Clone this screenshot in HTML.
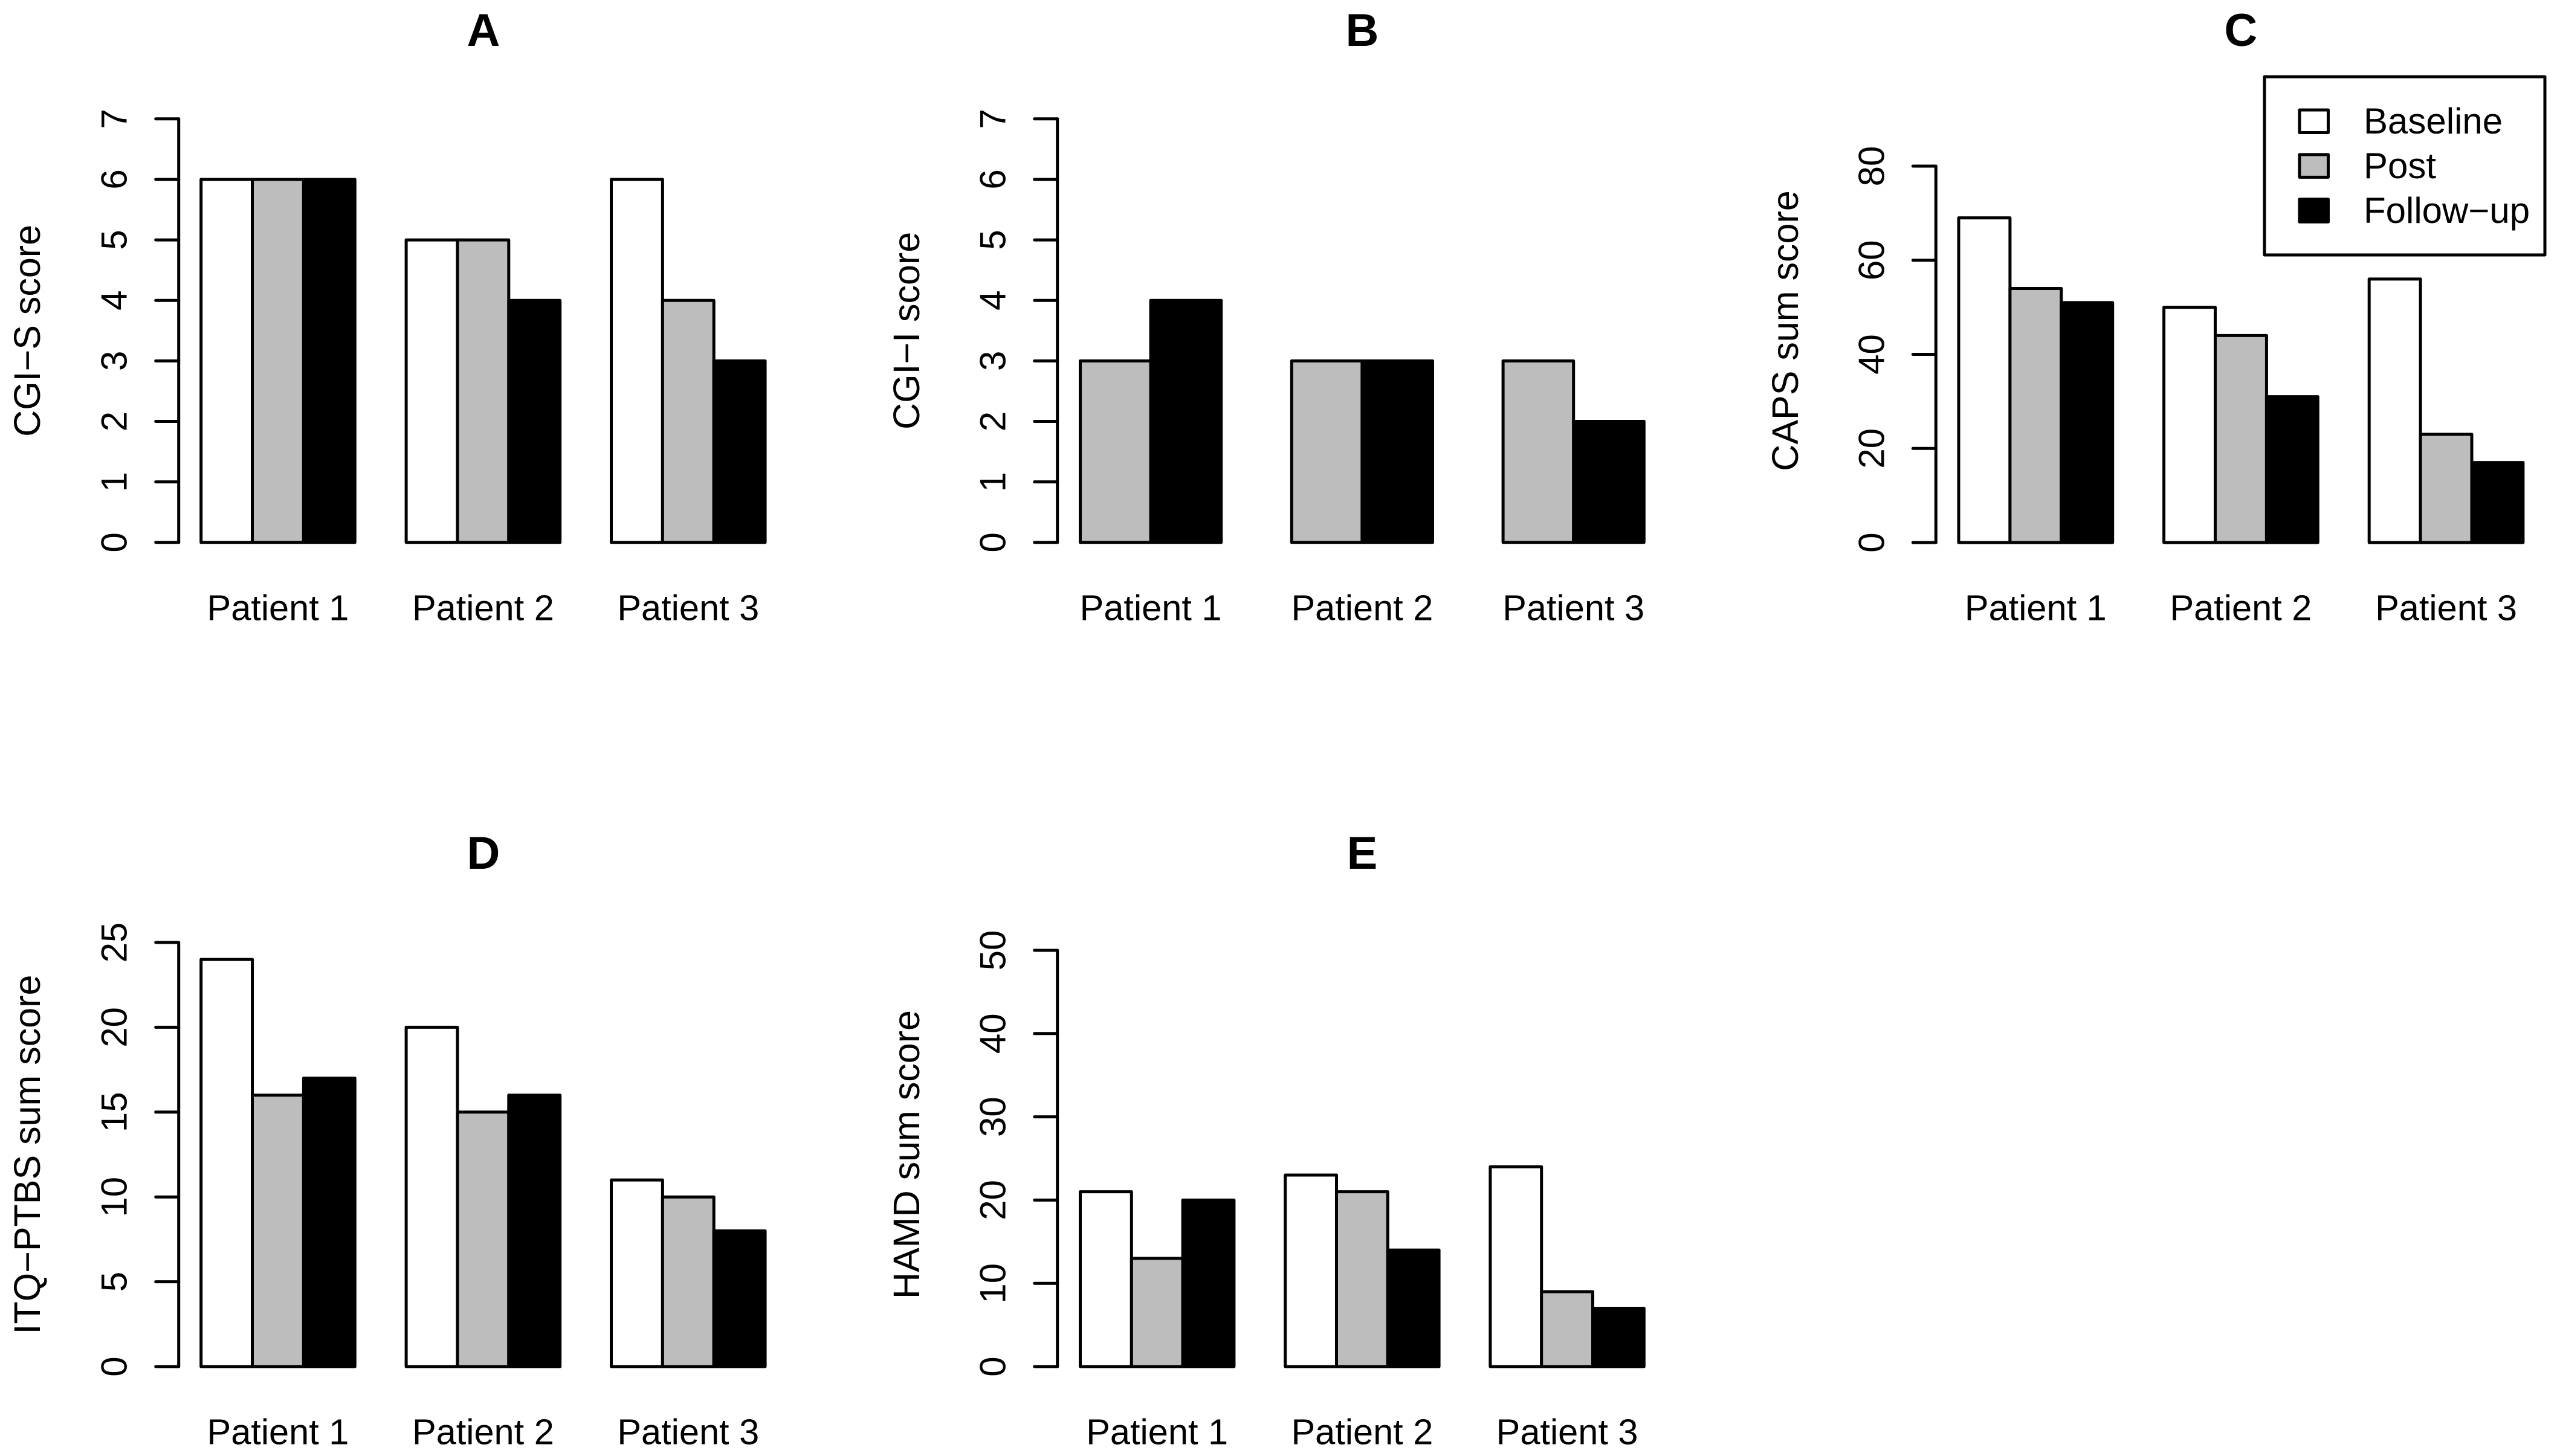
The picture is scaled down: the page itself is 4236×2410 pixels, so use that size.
<!DOCTYPE html>
<html lang="en">
<head>
<meta charset="utf-8">
<title>Patient score bar charts</title>
<style>
html,body{margin:0;padding:0;background:#fff;}
#figure{display:block;width:4236px;height:2410px;background:#fff;}
text{font-family:"Liberation Sans",Arial,sans-serif;fill:#000;}
</style>
</head>
<body>
<svg id="figure" xmlns="http://www.w3.org/2000/svg" width="4236" height="2410" viewBox="0 0 4236 2410"></svg>
<script>
const patients = ["Patient 1", "Patient 2", "Patient 3"];
const seriesNames = ["Baseline", "Post", "Follow\u2212up"];

const cgiSBaseline = [6, 5, 6];
const cgiSPost = [6, 5, 4];
const cgiSFollowUp = [6, 4, 3];
const cgiSTicks = [0, 1, 2, 3, 4, 5, 6, 7];

const cgiIPost = [3, 3, 3];
const cgiIFollowUp = [4, 3, 2];
const cgiITicks = [0, 1, 2, 3, 4, 5, 6, 7];

const capsBaseline = [69, 50, 56];
const capsPost = [54, 44, 23];
const capsFollowUp = [51, 31, 17];
const capsTicks = [0, 20, 40, 60, 80];

const itqBaseline = [24, 20, 11];
const itqPost = [16, 15, 10];
const itqFollowUp = [17, 16, 8];
const itqTicks = [0, 5, 10, 15, 20, 25];

const hamdBaseline = [21, 23, 24];
const hamdPost = [13, 21, 9];
const hamdFollowUp = [20, 14, 7];
const hamdTicks = [0, 10, 20, 30, 40, 50];

const GREY = "#bdbdbd";
const LW = 5;
const svg = document.getElementById("figure");

function make(tag, attrs, parent) {
  const el = document.createElementNS("http://www.w3.org/2000/svg", tag);
  for (const k in attrs) el.setAttribute(k, attrs[k]);
  parent.appendChild(el);
  return el;
}

function seriesFill(name) {
  if (name === "Baseline") return "#fff";
  if (name === "Post") return GREY;
  return "#000";
}

function drawPanel(cfg) {
  const g = make("g", {}, svg);
  
  

  const topTick = cfg.ticks[cfg.ticks.length - 1];
  const yScale = v => cfg.y0 - (v / topTick) * (cfg.y0 - cfg.yTop);
  const nSeries = cfg.series.length;
  const xScale = (groupIdx, seriesIdx) => cfg.x0 + cfg.barW * (groupIdx * (nSeries + 1) + seriesIdx);

  const title = make("text", {x: cfg.titleX, y: cfg.titleY, "text-anchor": "middle", "font-size": 76, "font-weight": "bold"}, g);
  title.textContent = cfg.title;
  
  

  const axisLabel = make("text", {
    transform: "translate(" + cfg.labelX + " " + (cfg.y0 + cfg.labelTop) / 2 + ") rotate(-90)",
    "text-anchor": "middle", "font-size": 61
  }, g);
  axisLabel.textContent = cfg.yLabel;
  
  

  const axis = make("g", {stroke: "#000", "stroke-width": LW, "stroke-linecap": "round", fill: "none"}, g);
  
  
  make("line", {x1: cfg.axisX, x2: cfg.axisX, y1: yScale(cfg.ticks[0]), y2: yScale(topTick)}, axis);

  cfg.ticks.forEach(t => {
    const tick = make("line", {x1: cfg.axisX - 38, x2: cfg.axisX, y1: yScale(t), y2: yScale(t)}, axis);
    
    
    const label = make("text", {
      transform: "translate(" + (cfg.axisX - 86) + " " + yScale(t) + ") rotate(-90)",
      "text-anchor": "middle", "font-size": 60
    }, g);
    label.textContent = String(t);
    
    
  });

  cfg.series.forEach((s, si) => {
    s.values.forEach((v, gi) => {
      const top = yScale(v);
      const bar = make("rect", {
        x: xScale(gi, si), y: top, width: cfg.barW, height: cfg.y0 - top,
        fill: seriesFill(s.name), stroke: "#000", "stroke-width": LW, "stroke-linejoin": "round"
      }, g);
      
      
    });
  });

  patients.forEach((p, gi) => {
    const cx = xScale(gi, 0) + cfg.barW * nSeries / 2;
    const label = make("text", {x: cx, y: cfg.y0 + 128.5, "text-anchor": "middle", "font-size": 59.5}, g);
    label.textContent = p;
    
    
  });
}

drawPanel({
  title: "A", titleX: 800, titleY: 76, yLabel: "CGI\u2212S score", labelX: 66, labelTop: 197,
  axisX: 295.7, x0: 332.7, barW: 84.85, y0: 897.8, yTop: 196.8, ticks: cgiSTicks,
  series: [{name: "Baseline", values: cgiSBaseline}, {name: "Post", values: cgiSPost}, {name: "Follow-up", values: cgiSFollowUp}]
});
drawPanel({
  title: "B", titleX: 2254, titleY: 76, yLabel: "CGI\u2212I score", labelX: 1521, labelTop: 197,
  axisX: 1749.7, x0: 1787.5, barW: 116.6, y0: 897.8, yTop: 196.8, ticks: cgiITicks,
  series: [{name: "Post", values: cgiIPost}, {name: "Follow-up", values: cgiIFollowUp}]
});
drawPanel({
  title: "C", titleX: 3708, titleY: 76, yLabel: "CAPS sum score", labelX: 2975, labelTop: 197,
  axisX: 3203.3, x0: 3241, barW: 84.9, y0: 898, yTop: 275, ticks: capsTicks,
  series: [{name: "Baseline", values: capsBaseline}, {name: "Post", values: capsPost}, {name: "Follow-up", values: capsFollowUp}]
});
drawPanel({
  title: "D", titleX: 800, titleY: 1438, yLabel: "ITQ\u2212PTBS sum score", labelX: 66, labelTop: 1560,
  axisX: 295.7, x0: 332.7, barW: 84.85, y0: 2262, yTop: 1560, ticks: itqTicks,
  series: [{name: "Baseline", values: itqBaseline}, {name: "Post", values: itqPost}, {name: "Follow-up", values: itqFollowUp}]
});
drawPanel({
  title: "E", titleX: 2254, titleY: 1438, yLabel: "HAMD sum score", labelX: 1521, labelTop: 1560,
  axisX: 1749.7, x0: 1787.5, barW: 84.8, y0: 2262, yTop: 1573, ticks: hamdTicks,
  series: [{name: "Baseline", values: hamdBaseline}, {name: "Post", values: hamdPost}, {name: "Follow-up", values: hamdFollowUp}]
});

const legend = make("g", {}, svg);


make("rect", {x: 3747, y: 127, width: 464, height: 295, fill: "#fff", stroke: "#000", "stroke-width": LW, "stroke-linejoin": "round"}, legend);
seriesNames.forEach((name, i) => {
  const y = 182 + i * 73.9;
  const swatch = make("rect", {
    x: 3805, y: y, width: 47.5, height: 37.5,
    fill: i === 0 ? "#fff" : (i === 1 ? GREY : "#000"), stroke: "#000", "stroke-width": LW, "stroke-linejoin": "round"
  }, legend);
  
  
  const label = make("text", {x: 3911, y: y + 39, "font-size": 60}, legend);
  label.textContent = name;
  
  
});
</script>
</body>
</html>
